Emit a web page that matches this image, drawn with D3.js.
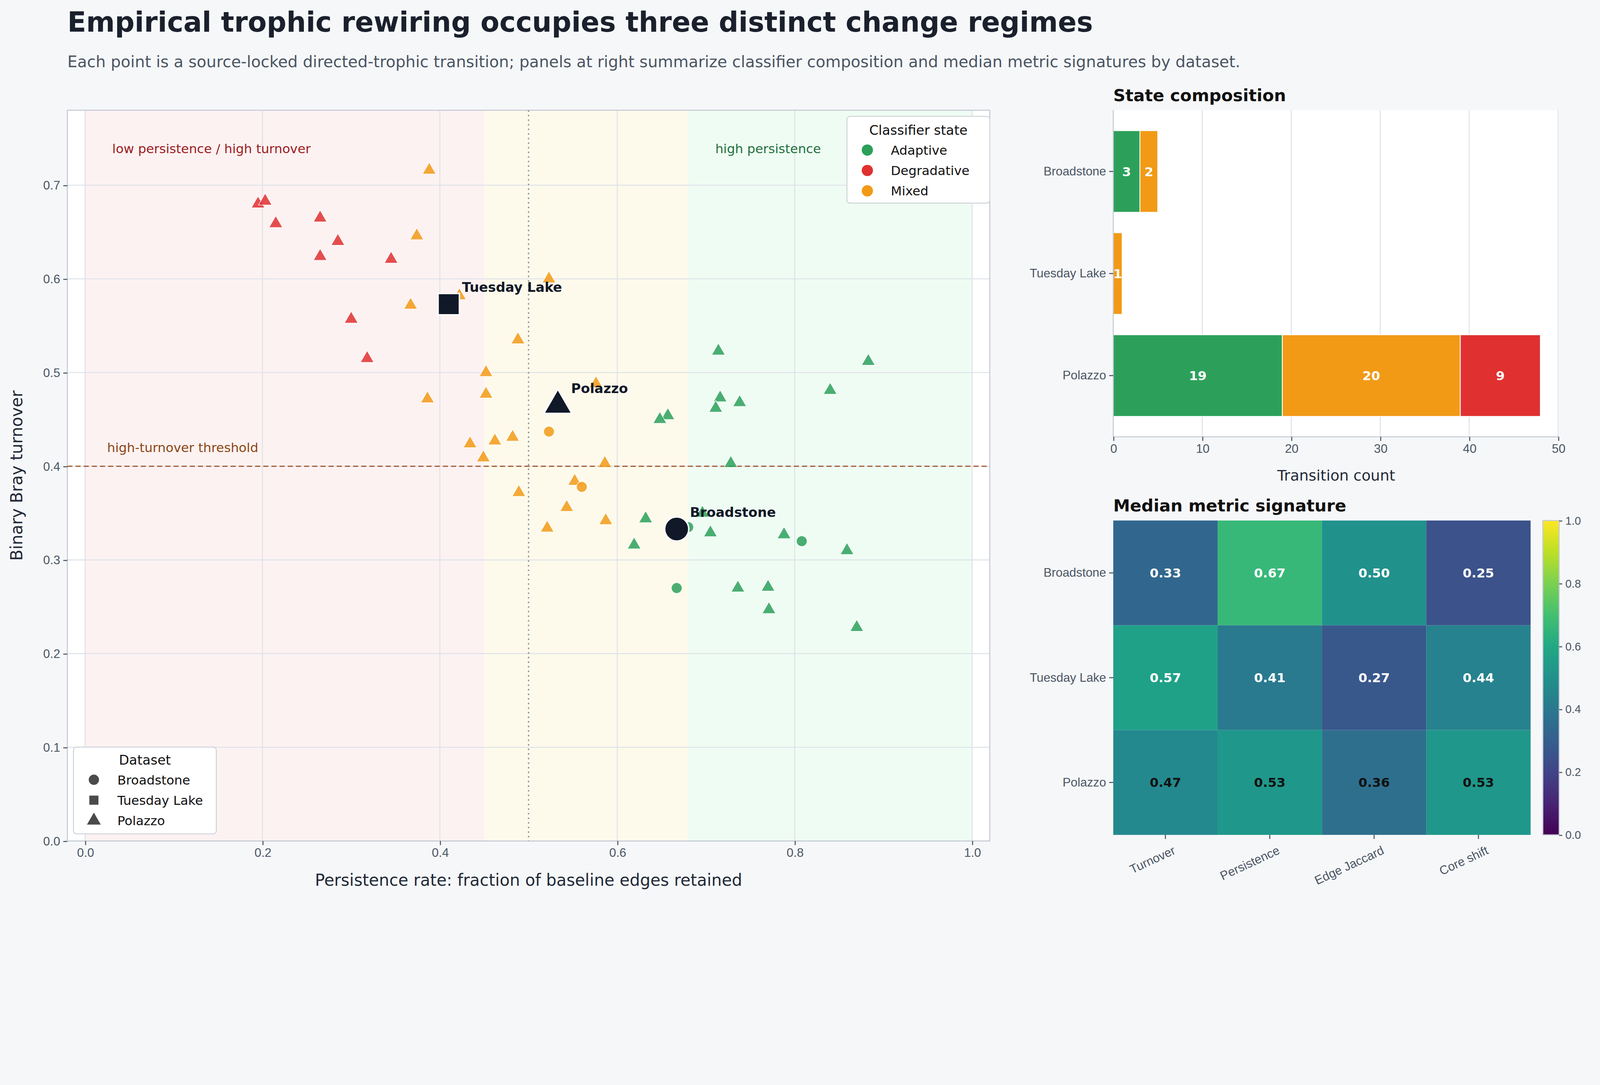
<!DOCTYPE html><html><head><meta charset="utf-8">
<script src="https://cdn.jsdelivr.net/npm/d3@7"></script>
<style>html,body{margin:0;background:#f6f7f9;overflow:hidden}svg{display:block;width:100vw;height:calc(100vw * 888 / 1568);font-family:"DejaVu Sans",sans-serif}</style></head><body>
<svg id="c" viewBox="0 0 1568 888" preserveAspectRatio="xMidYMin meet"></svg>
<script>
const datasets=["Broadstone","Tuesday Lake","Polazzo"];
const states=["Adaptive","Degradative","Mixed"];
const stateColors={"Adaptive":"#2ca05a","Degradative":"#e03030","Mixed":"#f29a16"};
const polDeg=[[0.195,0.68],[0.203,0.683],[0.215,0.659],[0.265,0.665],[0.285,0.64],[0.265,0.624],[0.345,0.621],[0.3,0.557],[0.318,0.515]];
const polMix=[[0.388,0.716],[0.374,0.646],[0.367,0.572],[0.422,0.582],[0.523,0.6],[0.488,0.535],[0.452,0.5],[0.452,0.477],[0.386,0.472],[0.434,0.424],[0.462,0.427],[0.482,0.431],[0.449,0.409],[0.576,0.488],[0.586,0.403],[0.552,0.384],[0.489,0.372],[0.543,0.356],[0.587,0.342],[0.521,0.334]];
const polAda=[[0.714,0.523],[0.883,0.512],[0.84,0.481],[0.716,0.473],[0.738,0.468],[0.711,0.462],[0.657,0.454],[0.648,0.45],[0.728,0.403],[0.696,0.35],[0.632,0.344],[0.705,0.329],[0.788,0.327],[0.619,0.316],[0.859,0.31],[0.736,0.27],[0.77,0.271],[0.771,0.247],[0.87,0.228]];
const brdMix=[[0.523,0.437],[0.56,0.378]];
const brdAda=[[0.68,0.335],[0.808,0.32],[0.667,0.27]];
const tueMix=[[0.41,0.573]];
const medians=[["Broadstone",0.667,0.333],["Tuesday Lake",0.41,0.573],["Polazzo",0.533,0.465]];
const counts={"Broadstone":{"Adaptive":3,"Mixed":2,"Degradative":0},"Tuesday Lake":{"Adaptive":0,"Mixed":1,"Degradative":0},"Polazzo":{"Adaptive":19,"Mixed":20,"Degradative":9}};
const barOrder=["Adaptive","Mixed","Degradative"];
const metrics=["Turnover","Persistence","Edge Jaccard","Core shift"];
const heat=[[0.33,0.67,0.50,0.25],[0.57,0.41,0.27,0.44],[0.47,0.53,0.36,0.53]];
const heatDarkText=[[false,false,false,false],[false,false,false,false],[true,true,true,true]];
const xTicks=[0,0.2,0.4,0.6,0.8,1.0], yTicks=[0,0.1,0.2,0.3,0.4,0.5,0.6,0.7];

const pts=[];
polDeg.forEach(p=>pts.push([...p,"Polazzo","Degradative"]));
polMix.forEach(p=>pts.push([...p,"Polazzo","Mixed"]));
polAda.forEach(p=>pts.push([...p,"Polazzo","Adaptive"]));
brdMix.forEach(p=>pts.push([...p,"Broadstone","Mixed"]));
brdAda.forEach(p=>pts.push([...p,"Broadstone","Adaptive"]));
tueMix.forEach(p=>pts.push([...p,"Tuesday Lake","Mixed"]));
const symType={"Broadstone":d3.symbolCircle,"Tuesday Lake":d3.symbolSquare,"Polazzo":d3.symbolTriangle};

const svg=d3.select("#c");
svg.append("rect").attr("width",1568).attr("height",888).attr("fill","#f6f7f9");
svg.append("text").attr("x",66).attr("y",31).attr("font-size",27).attr("font-weight","bold").attr("fill","#1a202c").text("Empirical trophic rewiring occupies three distinct change regimes");
svg.append("text").attr("x",66).attr("y",66).attr("font-size",15.5).attr("fill","#4a5563").text("Each point is a source-locked directed-trophic transition; panels at right summarize classifier composition and median metric signatures by dataset.");

const L=66,R=970,T=108,B=824;
const x=d3.scaleLinear().domain([-0.02,1.02]).range([L,R]);
const y=d3.scaleLinear().domain([0,0.78]).range([B,T]);
const g=svg.append("g");
g.append("rect").attr("x",L).attr("y",T).attr("width",R-L).attr("height",B-T).attr("fill","#fff");
[[0,0.45,"#fdf2f2"],[0.45,0.68,"#fefaeb"],[0.68,1.0,"#effcf3"]].forEach(b=>g.append("rect").attr("x",x(b[0])).attr("y",T).attr("width",x(b[1])-x(b[0])).attr("height",B-T).attr("fill",b[2]));
xTicks.forEach(t=>g.append("line").attr("x1",x(t)).attr("x2",x(t)).attr("y1",T).attr("y2",B).attr("stroke","#dfe3ea"));
yTicks.forEach(t=>g.append("line").attr("x1",L).attr("x2",R).attr("y1",y(t)).attr("y2",y(t)).attr("stroke","#dfe3ea"));
g.append("rect").attr("x",L).attr("y",T).attr("width",R-L).attr("height",B-T).attr("fill","none").attr("stroke","#c5cad3");
g.append("line").attr("x1",x(0.5)).attr("x2",x(0.5)).attr("y1",T).attr("y2",B).attr("stroke","#8a93a0").attr("stroke-dasharray","1.5,3").attr("stroke-width",1.3);
g.append("line").attr("x1",L).attr("x2",R).attr("y1",y(0.4)).attr("y2",y(0.4)).attr("stroke","#a8633a").attr("stroke-dasharray","5,3").attr("stroke-width",1.3);
g.append("text").attr("x",110).attr("y",150).attr("font-size",12.5).attr("fill","#9b1c1c").text("low persistence / high turnover");
g.append("text").attr("x",701).attr("y",150).attr("font-size",12.5).attr("fill","#22703c").text("high persistence");
g.append("text").attr("x",105).attr("y",443).attr("font-size",12.5).attr("fill","#8b4513").text("high-turnover threshold");
const xa=g.append("g").attr("transform",`translate(0,${B})`).call(d3.axisBottom(x).tickValues(xTicks).tickFormat(d3.format(".1f")).tickSize(4));
const ya=g.append("g").attr("transform",`translate(${L},0)`).call(d3.axisLeft(y).tickValues(yTicks).tickFormat(d3.format(".1f")).tickSize(4));
[xa,ya].forEach(a=>{a.select(".domain").remove();a.selectAll("text").attr("font-size",12).attr("fill","#4a5563");a.selectAll("line").attr("stroke","#4a5563");});
g.append("text").attr("x",(L+R)/2).attr("y",868).attr("text-anchor","middle").attr("font-size",16).attr("fill","#1f2937").text("Persistence rate: fraction of baseline edges retained");
g.append("text").attr("transform",`translate(22,${(T+B)/2}) rotate(-90)`).attr("text-anchor","middle").attr("font-size",16).attr("fill","#1f2937").text("Binary Bray turnover");
g.selectAll(".pt").data(pts).join("path").attr("transform",d=>`translate(${x(d[0])},${y(d[1])})`)
 .attr("d",d=>d3.symbol(symType[d[2]],d[2]==="Polazzo"?75:85)()).attr("fill",d=>stateColors[d[3]]).attr("fill-opacity",0.85).attr("stroke","#fff").attr("stroke-width",0.5);
medians.forEach(m=>{
 g.append("path").attr("transform",`translate(${x(m[1])},${y(m[2])})`).attr("d",d3.symbol(symType[m[0]],m[0]==="Polazzo"?330:440)()).attr("fill","#111827").attr("stroke","#fff").attr("stroke-width",1.5);
 g.append("text").attr("x",x(m[1])+13).attr("y",y(m[2])-12).attr("font-size",13).attr("font-weight","bold").attr("fill","#111827").text(m[0]);
});
const lg=g.append("g").attr("transform","translate(830,114)");
lg.append("rect").attr("width",140).attr("height",85).attr("rx",3).attr("fill","#fff").attr("stroke","#d1d5db");
lg.append("text").attr("x",70).attr("y",18).attr("text-anchor","middle").attr("font-size",13).attr("fill","#111").text("Classifier state");
states.forEach((s,i)=>{lg.append("circle").attr("cx",20).attr("cy",33+i*20).attr("r",5.5).attr("fill",stateColors[s]);
 lg.append("text").attr("x",43).attr("y",37.5+i*20).attr("font-size",12.5).attr("fill","#111").text(s);});
const lg2=g.append("g").attr("transform","translate(72,732)");
lg2.append("rect").attr("width",140).attr("height",85).attr("rx",3).attr("fill","#fff").attr("stroke","#d1d5db");
lg2.append("text").attr("x",70).attr("y",17).attr("text-anchor","middle").attr("font-size",13).attr("fill","#111").text("Dataset");
datasets.forEach((s,i)=>{lg2.append("path").attr("transform",`translate(20,${32+i*20})`).attr("d",d3.symbol(symType[s],80)()).attr("fill","#4b4b4b");
 lg2.append("text").attr("x",43).attr("y",36.5+i*20).attr("font-size",12.5).attr("fill","#111").text(s);});

const bL=1091,bR=1528,bT=108,bB=428;
const bx=d3.scaleLinear().domain([0,50]).range([bL,bR-1]);
const by=d3.scaleBand().domain(datasets).range([bT,bB]).padding(0.2);
const bg=svg.append("g");
bg.append("rect").attr("x",bL).attr("y",bT).attr("width",bR-bL).attr("height",bB-bT).attr("fill","#fff");
[10,20,30,40,50].forEach(t=>bg.append("line").attr("x1",bx(t)).attr("x2",bx(t)).attr("y1",bT).attr("y2",bB).attr("stroke","#dfe3ea"));
svg.append("text").attr("x",1091).attr("y",99).attr("font-size",16.5).attr("font-weight","bold").attr("fill","#111").text("State composition");
datasets.forEach(ds=>{let acc=0;barOrder.forEach(s=>{const v=counts[ds][s];if(!v)return;
 bg.append("rect").attr("x",bx(acc)).attr("y",by(ds)).attr("width",bx(acc+v)-bx(acc)).attr("height",by.bandwidth()).attr("fill",stateColors[s]).attr("stroke","#fff").attr("stroke-width",0.8);
 bg.append("text").attr("x",(bx(acc)+bx(acc+v))/2).attr("y",by(ds)+by.bandwidth()/2+4.5).attr("text-anchor","middle").attr("font-size",12.5).attr("font-weight","bold").attr("fill","#fff").text(v);
 acc+=v;});});
bg.append("line").attr("x1",bL).attr("x2",bL).attr("y1",bT).attr("y2",bB).attr("stroke","#c5cad3");
bg.append("line").attr("x1",bL).attr("x2",bR).attr("y1",bB).attr("y2",bB).attr("stroke","#c5cad3");
const bxa=bg.append("g").attr("transform",`translate(0,${bB})`).call(d3.axisBottom(bx).tickValues([0,10,20,30,40,50]).tickSize(4));
const bya=bg.append("g").attr("transform",`translate(${bL},0)`).call(d3.axisLeft(by).tickSize(4));
[bxa,bya].forEach(a=>{a.select(".domain").remove();a.selectAll("text").attr("font-size",12).attr("fill","#4a5563");a.selectAll("line").attr("stroke","#4a5563");});
bg.append("text").attr("x",(bL+bR)/2).attr("y",471).attr("text-anchor","middle").attr("font-size",14.5).attr("fill","#1f2937").text("Transition count");

const hL=1091,hR=1500,hT=510,hB=818;
const hx=d3.scaleBand().domain(metrics).range([hL,hR]);
const hy=d3.scaleBand().domain(datasets).range([hT,hB]);
const col=d3.scaleSequential(d3.interpolateViridis).domain([0,1]);
svg.append("text").attr("x",1091).attr("y",501).attr("font-size",16.5).attr("font-weight","bold").attr("fill","#111").text("Median metric signature");
const hg=svg.append("g");
datasets.forEach((ds,i)=>metrics.forEach((m,j)=>{
 hg.append("rect").attr("x",hx(m)).attr("y",hy(ds)).attr("width",hx.bandwidth()).attr("height",hy.bandwidth()).attr("fill",col(heat[i][j]));
 hg.append("text").attr("x",hx(m)+hx.bandwidth()/2).attr("y",hy(ds)+hy.bandwidth()/2+4.5).attr("text-anchor","middle").attr("font-size",12.5).attr("font-weight","bold").attr("fill",heatDarkText[i][j]?"#111":"#fff").text(heat[i][j].toFixed(2));
}));
const hya=hg.append("g").attr("transform",`translate(${hL},0)`).call(d3.axisLeft(hy).tickSize(4));
const hxa=hg.append("g").attr("transform",`translate(0,${hB})`).call(d3.axisBottom(hx).tickSize(4));
hxa.selectAll("text").attr("text-anchor","end").attr("transform","translate(4,4) rotate(-25)");
[hxa,hya].forEach(a=>{a.select(".domain").remove();a.selectAll("text").attr("font-size",12).attr("fill","#4a5563");a.selectAll("line").attr("stroke","#4a5563");});
const cbX=1512,cbW=16;
const cy=d3.scaleLinear().domain([0,1]).range([hB,hT]);
const defs=svg.append("defs");const gr=defs.append("linearGradient").attr("id","vg").attr("x1",0).attr("y1",1).attr("x2",0).attr("y2",0);
d3.range(0,1.001,0.1).forEach(t=>gr.append("stop").attr("offset",t).attr("stop-color",col(t)));
svg.append("rect").attr("x",cbX).attr("y",hT).attr("width",cbW).attr("height",hB-hT).attr("fill","url(#vg)").attr("stroke","#c5cad3");
const cba=svg.append("g").attr("transform",`translate(${cbX+cbW},0)`).call(d3.axisRight(cy).tickValues([0,0.2,0.4,0.6,0.8,1.0]).tickFormat(d3.format(".1f")).tickSize(3));
cba.select(".domain").remove();cba.selectAll("text").attr("font-size",11).attr("fill","#4a5563");cba.selectAll("line").attr("stroke","#4a5563");
</script></body></html>
